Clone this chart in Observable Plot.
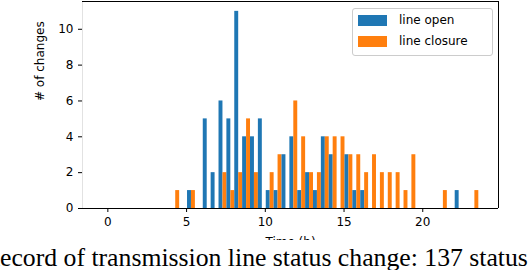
<!DOCTYPE html>
<html>
<head>
<meta charset="utf-8">
<script src="https://cdn.jsdelivr.net/npm/d3@7"></script>
<script src="https://cdn.jsdelivr.net/npm/@observablehq/plot@0.6"></script>
<style>
  html, body { margin: 0; padding: 0; background: #fff; }
  #wrap { position: relative; width: 528px; height: 270px; overflow: hidden; }
  #legend { position: absolute; left: 352px; top: 8px; width: 139px; height: 46px;
    border: 1px solid #cccccc; border-radius: 3px; background: rgba(255,255,255,0.8);
    font-family: "DejaVu Sans", sans-serif; font-size: 12px; color: #000; }
  .item { position: absolute; left: 5px; height: 11px; }
  .sw { position: absolute; left: 0; top: 0; width: 29px; height: 11px; }
  .lab { position: absolute; left: 41px; top: -2px; white-space: nowrap; line-height: 14px; }
  #caption { position: absolute; left: 0; top: 240px; width: 528px; height: 30px;
    background: #fff; overflow: hidden; white-space: nowrap; }
  #captext { font-family: "Liberation Serif", serif; line-height: 30px; display: inline-block; padding-top: 3px; }
</style>
</head>
<body>
<div id="wrap">
  <div id="chart"></div>
  <div id="legend"></div>
  <div id="caption"><span id="captext"></span></div>
</div>
<script>
// ---- data ----
const binStart = [4.0, 4.5, 5.0, 5.5, 6.0, 6.5, 7.0, 7.5, 8.0, 8.5, 9.0, 9.5, 10.0, 10.5, 11.0, 11.5, 12.0, 12.5, 13.0, 13.5, 14.0, 14.5, 15.0, 15.5, 16.0, 16.5, 17.0, 17.5, 18.0, 18.5, 19.0, 19.5, 20.0, 20.5, 21.0, 21.5, 22.0, 22.5, 23.0];
const lineOpen    = [0, 0, 1, 0, 5, 2, 6, 5, 11, 4, 4, 5, 1, 1, 3, 4, 1, 2, 1, 4, 3, 0, 3, 1, 1, 0, 0, 0, 0, 0, 0, 0, 0, 0, 0, 0, 1, 0, 0];
const lineClosure = [1, 0, 1, 0, 0, 0, 2, 1, 2, 5, 2, 0, 2, 3, 0, 6, 4, 2, 2, 4, 4, 4, 3, 3, 2, 3, 2, 2, 2, 1, 3, 0, 0, 0, 1, 0, 0, 0, 1];
const seriesNames = ["line open", "line closure"];
const seriesColors = ["#1f77b4", "#ff7f0e"];
const xTicks = [0, 5, 10, 15, 20];
const yTicks = [0, 2, 4, 6, 8, 10];
const xLabel = "Time (h)";
const yLabel = "# of changes";
const captionText = "Record of transmission line status change: 137 status changes";

// ---- layout ----
const binWidth = 0.5, off = 0.06;
const xDomain = [-1.61, 24.81], yDomain = [0, 11.55];

const rows = [];
binStart.forEach((b, i) => {
  if (lineOpen[i] > 0) rows.push({s: 0, x1: b + off, x2: b + off + binWidth / 2, v: lineOpen[i]});
  if (lineClosure[i] > 0) rows.push({s: 1, x1: b + off + binWidth / 2, x2: b + off + binWidth, v: lineClosure[i]});
});

const chart = Plot.plot({
  width: 528, height: 250,
  marginLeft: 82, marginRight: 30, marginTop: 1, marginBottom: 42,
  style: {fontFamily: "DejaVu Sans, sans-serif", fontSize: "12px", background: "#fff", color: "#000"},
  x: {domain: xDomain, ticks: xTicks, tickSize: 4, tickPadding: 5, label: null},
  y: {domain: yDomain, ticks: yTicks, tickSize: 4, tickPadding: 5, label: null},
  marks: [
    Plot.rect(rows, {x1: "x1", x2: "x2", y1: 0, y2: "v", fill: d => seriesColors[d.s]}),
    Plot.ruleX([xDomain[0]], {stroke: "#e2e2e2"}),
    Plot.ruleY([yDomain[0]], {stroke: "#000"}),
    Plot.ruleY([yDomain[1]], {stroke: "#000"}),
    Plot.ruleX([xDomain[1]], {stroke: "#000"}),
    Plot.text([yLabel], {frameAnchor: "left", dx: -42, dy: -4, rotate: -90, fontSize: 12, text: d => d}),
    Plot.text([xLabel], {frameAnchor: "bottom", dy: 37, fontSize: 12, text: d => d})
  ]
});
document.getElementById("chart").appendChild(chart);

// legend
const leg = document.getElementById("legend");
seriesNames.forEach((name, i) => {
  const it = document.createElement("div");
  it.className = "item";
  it.style.top = (i === 0 ? 6 : 27) + "px";
  it.innerHTML = `<div class="sw" style="background:${seriesColors[i]}"></div><div class="lab">${name}</div>`;
  leg.appendChild(it);
});

// caption (cropped like the reference: first letter hidden at left)
const cap = document.getElementById("captext");
const ctx = document.createElement("canvas").getContext("2d");
const visible = "ecord of transmission line status change: 137 status";
ctx.font = "100px 'Liberation Serif'";
const fs = 528 / ctx.measureText(visible).width * 100;
ctx.font = fs + "px 'Liberation Serif'";
const rW = ctx.measureText("R").width;
cap.style.fontSize = fs + "px";
cap.style.marginLeft = (-rW) + "px";
cap.textContent = captionText;
</script>
</body>
</html>
